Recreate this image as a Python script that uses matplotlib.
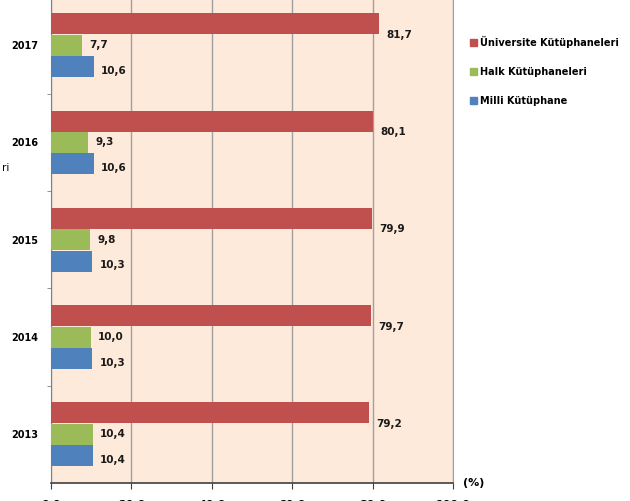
import numpy as np
import matplotlib.pyplot as plt
from matplotlib.patches import Patch
from matplotlib.ticker import FixedLocator

years = ['2013', '2014', '2015', '2016', '2017']
universite = [79.2, 79.7, 79.9, 80.1, 81.7]
halk = [10.4, 10.0, 9.8, 9.3, 7.7]
milli = [10.4, 10.3, 10.3, 10.6, 10.6]
series_names = ['Üniversite Kütüphaneleri', 'Halk Kütüphaneleri', 'Milli Kütüphane']
x_ticks = [0, 20, 40, 60, 80, 100]
x_labels = ['0,0', '20,0', '40,0', '60,0', '80,0', '100,0']

colors = ['#C0504D', '#9BBB59', '#4F81BD']

fig = plt.figure(figsize=(6.30, 5.01), dpi=100)
ax = fig.add_axes([51/630, 18/501, 402/630, 486.5/501])
ax.set_facecolor('#FDEADA')

y = np.arange(len(years))
h = 0.215
off = 0.22
data = [universite, halk, milli]
shifts = [off, 0, -off]
# label vertical nudges in points (Excel put them a bit low)
nudges = [-8, 0, -3]
for vals, s, c, nd in zip(data, shifts, colors, nudges):
    ax.barh(y + s, vals, height=h, color=c, zorder=3)
    for yi, v in zip(y, vals):
        ax.annotate(f'{v:.1f}'.replace('.', ','), (v, yi + s), xytext=(5, nd),
                    textcoords='offset points', va='center', ha='left',
                    fontsize=7.5, fontweight='bold', color='#1a1a1a')

ax.set_xlim(0, 100)
ax.set_ylim(-0.5, 4.5)
ax.set_xticks(x_ticks)
ax.set_xticklabels(x_labels, fontsize=8, fontweight='bold')
ax.set_yticks(y)
ax.set_yticklabels(years, fontsize=7, fontweight='bold')
ax.yaxis.set_minor_locator(FixedLocator(y[:-1] + 0.5))
ax.tick_params(axis='y', which='major', length=0, pad=9)
ax.tick_params(axis='y', which='minor', length=3, color='#808080', direction='out')
ax.tick_params(axis='x', length=4, color='#404040', pad=8)
ax.grid(axis='x', color='#A0A0A0', linewidth=1, zorder=0)

ax.spines['top'].set_visible(False)
ax.spines['right'].set_color('#A0A0A0')
ax.spines['left'].set_color('#808080')
ax.spines['bottom'].set_color('#404040')
ax.spines['bottom'].set_linewidth(1.2)

fig.text(463/630, 1 - 483/501, '(%)', fontsize=8, fontweight='bold', va='center')
fig.text(2/630, 1 - 168/501, 'ri', fontsize=7.5, va='center')

handles = [Patch(color=c) for c in colors]
fig.legend(handles, series_names, loc='upper left',
           bbox_to_anchor=(461/630, 1 - 27/501), frameon=False,
           handlelength=0.75, handleheight=0.75, handletextpad=0.3,
           labelspacing=1.95, prop={'size': 7, 'weight': 'bold'})

fig.savefig('out.png', dpi=100)
